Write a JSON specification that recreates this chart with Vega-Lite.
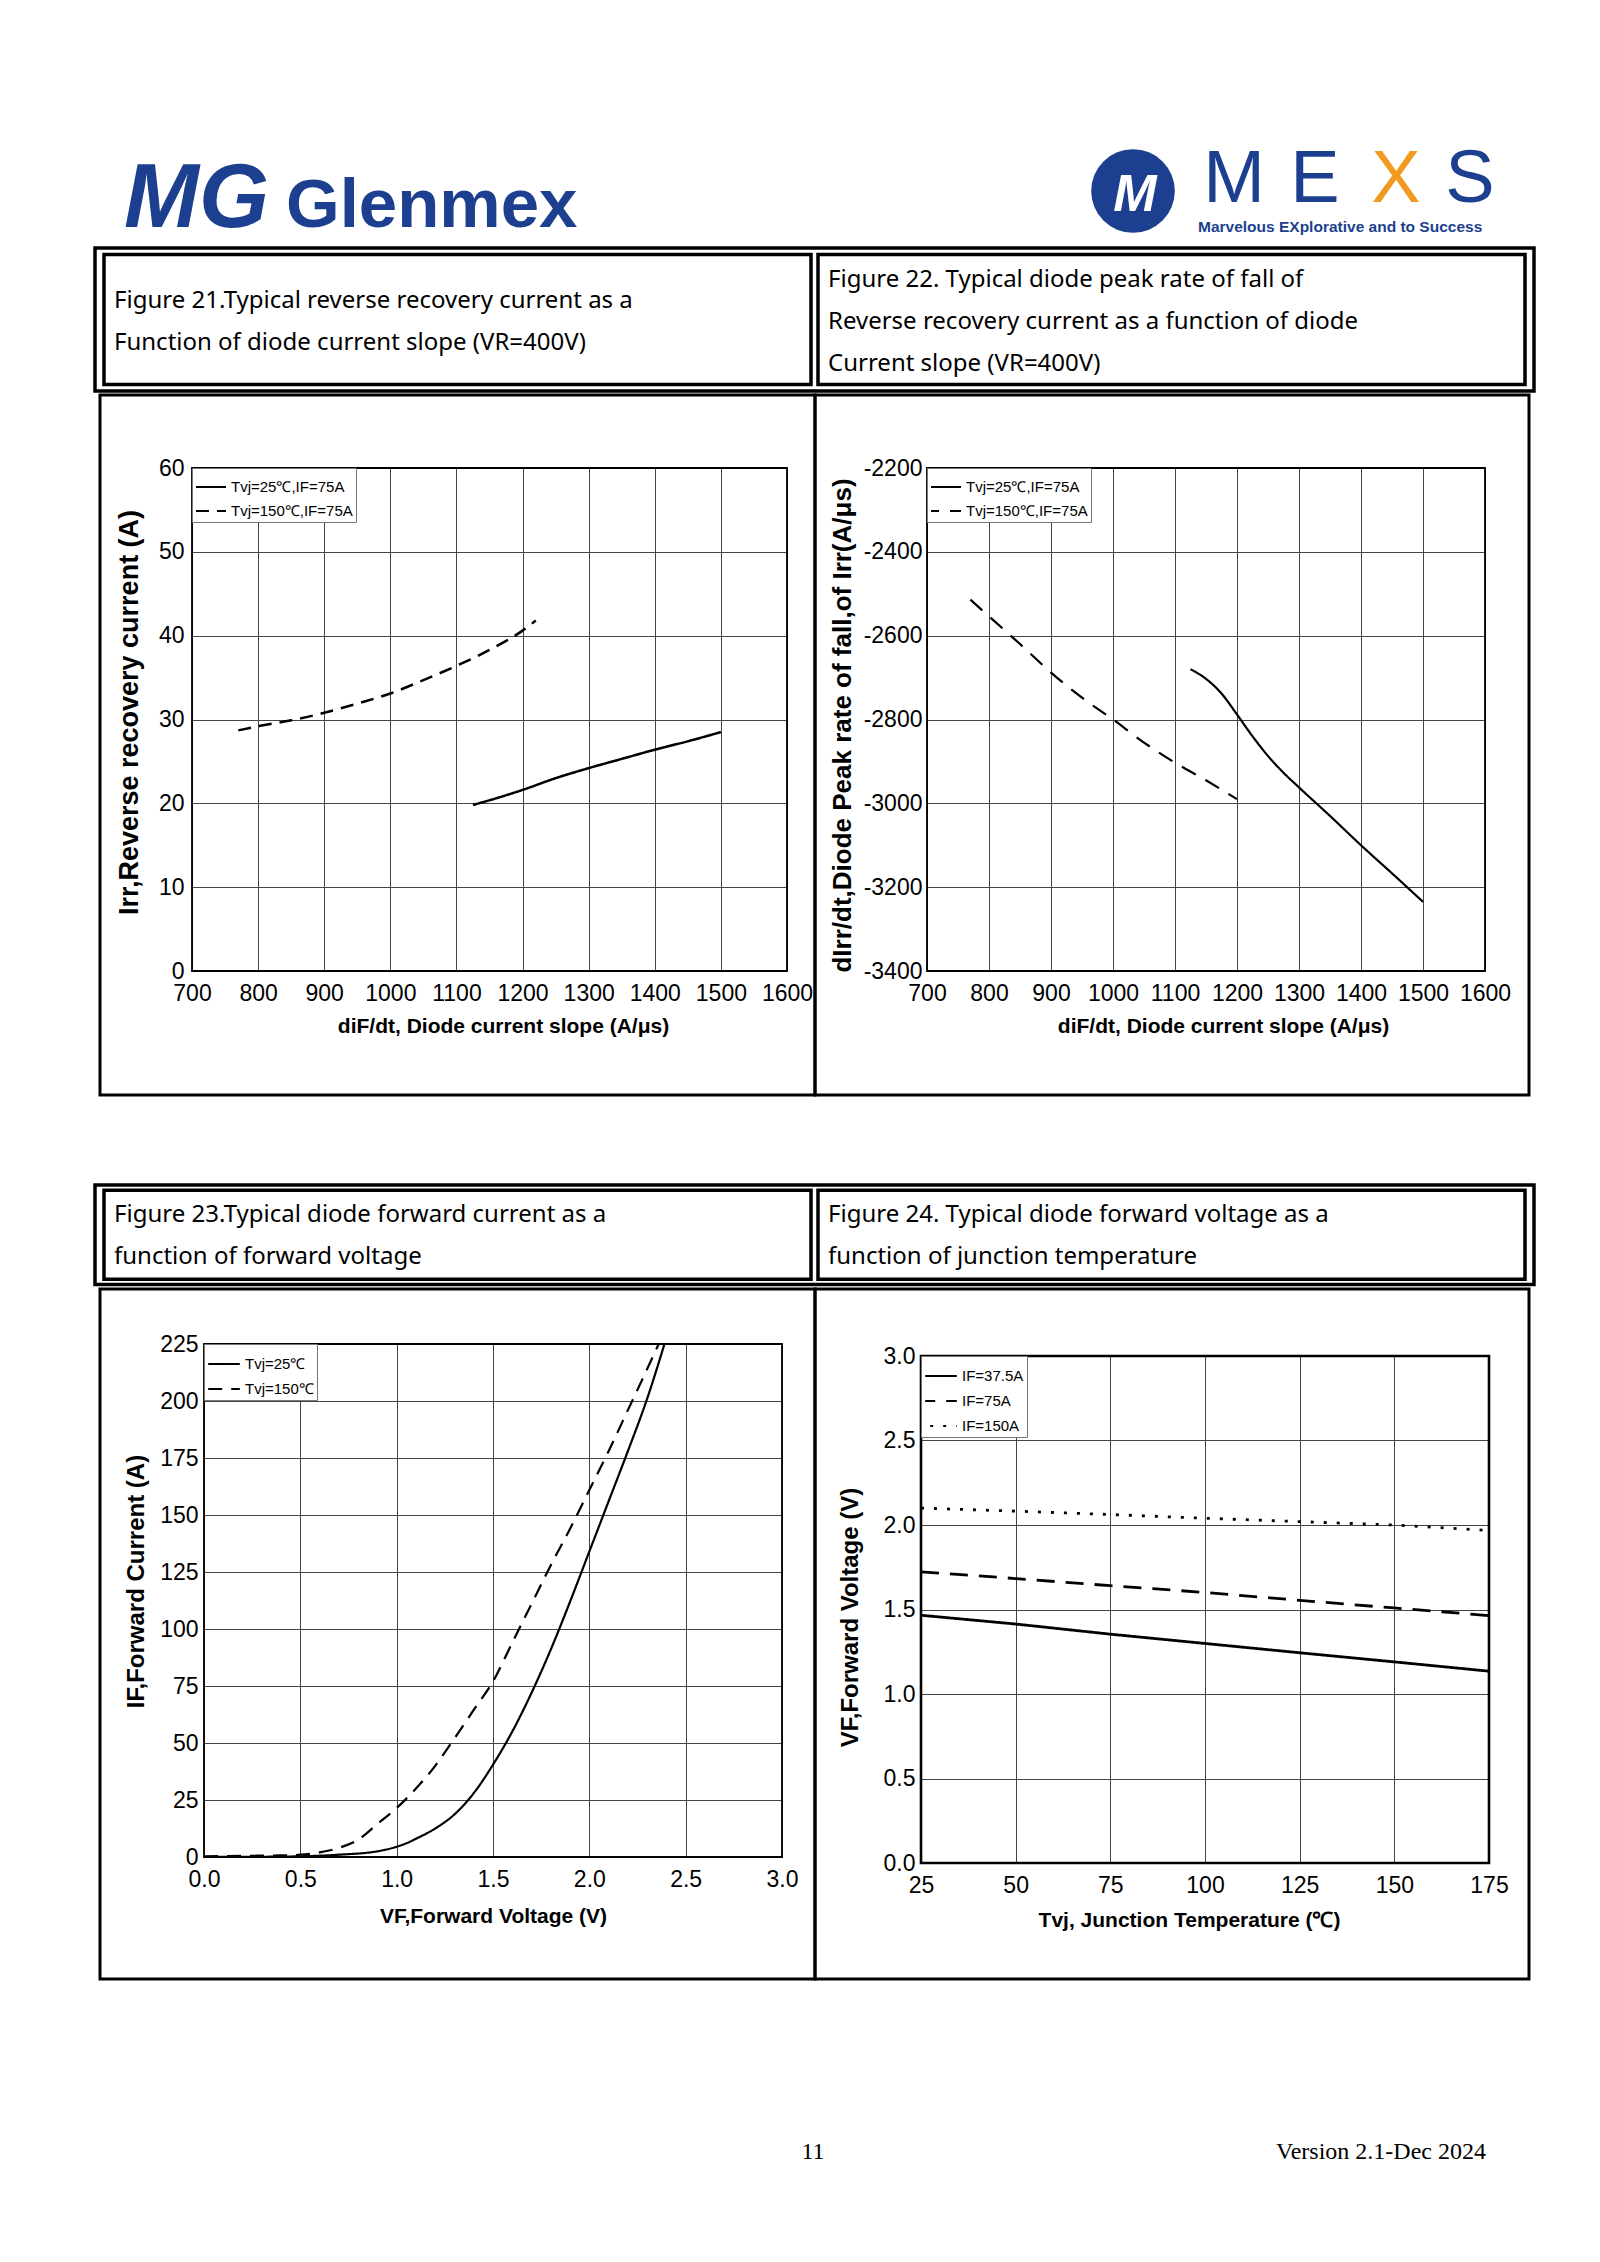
{
  "$schema": "https://vega.github.io/schema/vega-lite/v6.json",
  "background": "white",
  "padding": {"left": 93, "top": 130, "right": 0, "bottom": 0},
  "spacing": 0,
  "bounds": "full",
  "resolve": {"scale": {"strokeDash": "independent"}, "legend": {"strokeDash": "independent"}},
  "datasets": {
    "fig21": [
      {"slope": 1125, "irr": 19.8, "condition": "Tvj=25℃,IF=75A"},
      {"slope": 1160, "irr": 20.6, "condition": "Tvj=25℃,IF=75A"},
      {"slope": 1200, "irr": 21.6, "condition": "Tvj=25℃,IF=75A"},
      {"slope": 1250, "irr": 23.0, "condition": "Tvj=25℃,IF=75A"},
      {"slope": 1300, "irr": 24.2, "condition": "Tvj=25℃,IF=75A"},
      {"slope": 1350, "irr": 25.3, "condition": "Tvj=25℃,IF=75A"},
      {"slope": 1400, "irr": 26.4, "condition": "Tvj=25℃,IF=75A"},
      {"slope": 1450, "irr": 27.4, "condition": "Tvj=25℃,IF=75A"},
      {"slope": 1500, "irr": 28.5, "condition": "Tvj=25℃,IF=75A"},
      {"slope": 770, "irr": 28.7, "condition": "Tvj=150℃,IF=75A"},
      {"slope": 800, "irr": 29.2, "condition": "Tvj=150℃,IF=75A"},
      {"slope": 850, "irr": 29.9, "condition": "Tvj=150℃,IF=75A"},
      {"slope": 900, "irr": 30.8, "condition": "Tvj=150℃,IF=75A"},
      {"slope": 950, "irr": 31.9, "condition": "Tvj=150℃,IF=75A"},
      {"slope": 1000, "irr": 33.1, "condition": "Tvj=150℃,IF=75A"},
      {"slope": 1050, "irr": 34.7, "condition": "Tvj=150℃,IF=75A"},
      {"slope": 1100, "irr": 36.4, "condition": "Tvj=150℃,IF=75A"},
      {"slope": 1150, "irr": 38.3, "condition": "Tvj=150℃,IF=75A"},
      {"slope": 1200, "irr": 40.6, "condition": "Tvj=150℃,IF=75A"},
      {"slope": 1220, "irr": 41.8, "condition": "Tvj=150℃,IF=75A"}
    ],
    "fig22": [
      {"slope": 1125, "rate": -2680, "condition": "Tvj=25℃,IF=75A"},
      {"slope": 1150, "rate": -2703, "condition": "Tvj=25℃,IF=75A"},
      {"slope": 1175, "rate": -2738, "condition": "Tvj=25℃,IF=75A"},
      {"slope": 1200, "rate": -2788, "condition": "Tvj=25℃,IF=75A"},
      {"slope": 1225, "rate": -2840, "condition": "Tvj=25℃,IF=75A"},
      {"slope": 1250, "rate": -2887, "condition": "Tvj=25℃,IF=75A"},
      {"slope": 1275, "rate": -2927, "condition": "Tvj=25℃,IF=75A"},
      {"slope": 1300, "rate": -2962, "condition": "Tvj=25℃,IF=75A"},
      {"slope": 1350, "rate": -3030, "condition": "Tvj=25℃,IF=75A"},
      {"slope": 1400, "rate": -3100, "condition": "Tvj=25℃,IF=75A"},
      {"slope": 1450, "rate": -3167, "condition": "Tvj=25℃,IF=75A"},
      {"slope": 1500, "rate": -3235, "condition": "Tvj=25℃,IF=75A"},
      {"slope": 770, "rate": -2514, "condition": "Tvj=150℃,IF=75A"},
      {"slope": 800, "rate": -2554, "condition": "Tvj=150℃,IF=75A"},
      {"slope": 850, "rate": -2620, "condition": "Tvj=150℃,IF=75A"},
      {"slope": 900, "rate": -2688, "condition": "Tvj=150℃,IF=75A"},
      {"slope": 950, "rate": -2748, "condition": "Tvj=150℃,IF=75A"},
      {"slope": 1000, "rate": -2800, "condition": "Tvj=150℃,IF=75A"},
      {"slope": 1050, "rate": -2855, "condition": "Tvj=150℃,IF=75A"},
      {"slope": 1100, "rate": -2903, "condition": "Tvj=150℃,IF=75A"},
      {"slope": 1150, "rate": -2945, "condition": "Tvj=150℃,IF=75A"},
      {"slope": 1200, "rate": -2990, "condition": "Tvj=150℃,IF=75A"}
    ],
    "fig23": [
      {"vf": 0.0, "current": 0.0, "condition": "Tvj=25℃"},
      {"vf": 0.3, "current": 0.1, "condition": "Tvj=25℃"},
      {"vf": 0.5, "current": 0.3, "condition": "Tvj=25℃"},
      {"vf": 0.7, "current": 1.0, "condition": "Tvj=25℃"},
      {"vf": 0.9, "current": 2.5, "condition": "Tvj=25℃"},
      {"vf": 1.0, "current": 4.5, "condition": "Tvj=25℃"},
      {"vf": 1.05, "current": 6.0, "condition": "Tvj=25℃"},
      {"vf": 1.1, "current": 8.0, "condition": "Tvj=25℃"},
      {"vf": 1.2, "current": 12.5, "condition": "Tvj=25℃"},
      {"vf": 1.3, "current": 18.7, "condition": "Tvj=25℃"},
      {"vf": 1.4, "current": 28.0, "condition": "Tvj=25℃"},
      {"vf": 1.5, "current": 40.5, "condition": "Tvj=25℃"},
      {"vf": 1.6, "current": 55.0, "condition": "Tvj=25℃"},
      {"vf": 1.7, "current": 72.0, "condition": "Tvj=25℃"},
      {"vf": 1.8, "current": 91.0, "condition": "Tvj=25℃"},
      {"vf": 1.9, "current": 112.0, "condition": "Tvj=25℃"},
      {"vf": 2.0, "current": 134.0, "condition": "Tvj=25℃"},
      {"vf": 2.1, "current": 156.0, "condition": "Tvj=25℃"},
      {"vf": 2.2, "current": 178.0, "condition": "Tvj=25℃"},
      {"vf": 2.3, "current": 201.0, "condition": "Tvj=25℃"},
      {"vf": 2.39, "current": 225.0, "condition": "Tvj=25℃"},
      {"vf": 0.0, "current": 0.3, "condition": "Tvj=150℃"},
      {"vf": 0.2, "current": 0.5, "condition": "Tvj=150℃"},
      {"vf": 0.4, "current": 0.7, "condition": "Tvj=150℃"},
      {"vf": 0.5, "current": 1.0, "condition": "Tvj=150℃"},
      {"vf": 0.6, "current": 2.0, "condition": "Tvj=150℃"},
      {"vf": 0.7, "current": 4.0, "condition": "Tvj=150℃"},
      {"vf": 0.8, "current": 7.6, "condition": "Tvj=150℃"},
      {"vf": 0.9, "current": 14.5, "condition": "Tvj=150℃"},
      {"vf": 1.0, "current": 21.5, "condition": "Tvj=150℃"},
      {"vf": 1.1, "current": 30.0, "condition": "Tvj=150℃"},
      {"vf": 1.2, "current": 40.0, "condition": "Tvj=150℃"},
      {"vf": 1.3, "current": 52.0, "condition": "Tvj=150℃"},
      {"vf": 1.4, "current": 64.5, "condition": "Tvj=150℃"},
      {"vf": 1.5, "current": 77.0, "condition": "Tvj=150℃"},
      {"vf": 1.6, "current": 94.0, "condition": "Tvj=150℃"},
      {"vf": 1.7, "current": 111.0, "condition": "Tvj=150℃"},
      {"vf": 1.8, "current": 128.0, "condition": "Tvj=150℃"},
      {"vf": 1.9, "current": 144.0, "condition": "Tvj=150℃"},
      {"vf": 2.0, "current": 161.0, "condition": "Tvj=150℃"},
      {"vf": 2.1, "current": 178.0, "condition": "Tvj=150℃"},
      {"vf": 2.2, "current": 196.0, "condition": "Tvj=150℃"},
      {"vf": 2.3, "current": 214.0, "condition": "Tvj=150℃"},
      {"vf": 2.36, "current": 225.0, "condition": "Tvj=150℃"}
    ],
    "fig24": [
      {"tvj": 25, "vf": 1.466, "condition": "IF=37.5A"},
      {"tvj": 50, "vf": 1.414, "condition": "IF=37.5A"},
      {"tvj": 75, "vf": 1.354, "condition": "IF=37.5A"},
      {"tvj": 100, "vf": 1.299, "condition": "IF=37.5A"},
      {"tvj": 125, "vf": 1.244, "condition": "IF=37.5A"},
      {"tvj": 150, "vf": 1.19, "condition": "IF=37.5A"},
      {"tvj": 175, "vf": 1.135, "condition": "IF=37.5A"},
      {"tvj": 25, "vf": 1.723, "condition": "IF=75A"},
      {"tvj": 50, "vf": 1.683, "condition": "IF=75A"},
      {"tvj": 75, "vf": 1.641, "condition": "IF=75A"},
      {"tvj": 100, "vf": 1.601, "condition": "IF=75A"},
      {"tvj": 125, "vf": 1.554, "condition": "IF=75A"},
      {"tvj": 150, "vf": 1.509, "condition": "IF=75A"},
      {"tvj": 175, "vf": 1.464, "condition": "IF=75A"},
      {"tvj": 25, "vf": 2.10, "condition": "IF=150A"},
      {"tvj": 50, "vf": 2.082, "condition": "IF=150A"},
      {"tvj": 75, "vf": 2.062, "condition": "IF=150A"},
      {"tvj": 100, "vf": 2.04, "condition": "IF=150A"},
      {"tvj": 125, "vf": 2.02, "condition": "IF=150A"},
      {"tvj": 150, "vf": 2.0, "condition": "IF=150A"},
      {"tvj": 175, "vf": 1.968, "condition": "IF=150A"}
    ]
  },
  "vconcat": [
    {
      "width": 1439, "height": 115,
      "layer": [
        {"data": {"values": [{"t": "MG"}]}, "mark": {"type": "text", "x": 29, "y": 96, "align": "left", "baseline": "alphabetic", "font": "Liberation Sans", "fontSize": 90, "fontWeight": "bold", "fontStyle": "italic", "color": "#1c3f8f"}, "encoding": {"text": {"field": "t"}}},
        {"data": {"values": [{"t": "Glenmex"}]}, "mark": {"type": "text", "x": 191, "y": 96, "align": "left", "baseline": "alphabetic", "font": "Liberation Sans", "fontSize": 69, "fontWeight": "bold", "color": "#1c3f8f"}, "encoding": {"text": {"field": "t"}}},
        {"data": {"values": [{"t": "line"}]}, "mark": {"type": "rule", "x": 479, "x2": 1432, "y": 106, "color": "#2a4b9b", "strokeWidth": 3}, "encoding": {}},
        {"data": {"values": [{"t": "circle"}]}, "mark": {"type": "circle", "x": 1038, "y": 60, "size": 7000, "color": "#1c3f8f", "opacity": 1}},
        {"data": {"values": [{"t": "M"}]}, "mark": {"type": "text", "x": 1040, "y": 64, "align": "center", "baseline": "middle", "font": "Liberation Sans", "fontSize": 52, "fontWeight": "bold", "fontStyle": "italic", "color": "white"}, "encoding": {"text": {"field": "t"}}},
        {"data": {"values": [{"t": "M"}]}, "mark": {"type": "text", "x": 1139, "y": 71, "align": "center", "baseline": "alphabetic", "font": "Liberation Sans", "fontSize": 74, "color": "#1c3f8f"}, "encoding": {"text": {"field": "t"}}},
        {"data": {"values": [{"t": "E"}]}, "mark": {"type": "text", "x": 1220, "y": 71, "align": "center", "baseline": "alphabetic", "font": "Liberation Sans", "fontSize": 74, "color": "#1c3f8f"}, "encoding": {"text": {"field": "t"}}},
        {"data": {"values": [{"t": "X"}]}, "mark": {"type": "text", "x": 1301, "y": 71, "align": "center", "baseline": "alphabetic", "font": "Liberation Sans", "fontSize": 74, "color": "#f29a1f"}, "encoding": {"text": {"field": "t"}}},
        {"data": {"values": [{"t": "S"}]}, "mark": {"type": "text", "x": 1375, "y": 71, "align": "center", "baseline": "alphabetic", "font": "Liberation Sans", "fontSize": 74, "color": "#1c3f8f"}, "encoding": {"text": {"field": "t"}}},
        {"data": {"values": [{"t": "Marvelous EXplorative and to Success"}]}, "mark": {"type": "text", "x": 1103, "y": 101, "align": "left", "baseline": "alphabetic", "font": "Liberation Sans", "fontSize": 15.5, "fontWeight": "bold", "color": "#1c3f8f"}, "encoding": {"text": {"field": "t"}}}
      ]
    },
    {
      "width": 1439, "height": 143,
      "view": {"stroke": "black", "strokeWidth": 3.5},
      "data": {"values": [
        {"cell": "left", "row": "caption", "caption": "Figure 21.Typical reverse recovery current as a\nFunction of diode current slope (VR=400V)"},
        {"cell": "right", "row": "caption", "caption": "Figure 22. Typical diode peak rate of fall of\nReverse recovery current as a function of diode\nCurrent slope (VR=400V)"}
      ]},
      "encoding": {
        "x": {"field": "cell", "type": "nominal", "axis": null, "scale": {"type": "band", "domain": ["left", "right"], "paddingInner": 0.0098, "paddingOuter": 0.0126}},
        "y": {"field": "row", "type": "nominal", "axis": null, "scale": {"type": "band", "paddingInner": 0, "paddingOuter": 0.05}}
      },
      "layer": [
        {"mark": {"type": "rect", "fill": "white", "stroke": "black", "strokeWidth": 3.5}},
        {"transform": [{"filter": "datum.cell == 'left'"}],
         "mark": {"type": "text", "align": "left", "baseline": "middle", "dx": 10, "dy": -19, "font": "Noto Sans", "fontSize": 24, "lineHeight": 42, "lineBreak": "\n", "color": "black"},
         "encoding": {
           "x": {"field": "cell", "type": "nominal", "bandPosition": 0},
           "y": {"field": "row", "type": "nominal", "bandPosition": 0.5},
           "text": {"field": "caption"}
         }},
        {"transform": [{"filter": "datum.cell == 'right'"}],
         "mark": {"type": "text", "align": "left", "baseline": "middle", "dx": 10, "dy": -40, "font": "Noto Sans", "fontSize": 24, "lineHeight": 42, "lineBreak": "\n", "color": "black"},
         "encoding": {
           "x": {"field": "cell", "type": "nominal", "bandPosition": 0},
           "y": {"field": "row", "type": "nominal", "bandPosition": 0.5},
           "text": {"field": "caption"}
         }}
      ]
    },
    {
      "spacing": 0,
      "bounds": "flush",
      "resolve": {"scale": {"strokeDash": "independent"}, "legend": {"strokeDash": "independent"}},
      "hconcat": [
        {"width": 5, "height": 700, "data": {"values": [{"t": ""}]}, "mark": {"type": "text"}, "encoding": {"text": {"field": "t"}}},
        {
          "width": 715, "height": 700,
          "view": {"stroke": "black", "strokeWidth": 3},
          "resolve": {"axis": {"x": "independent"}},
          "layer": [
            {
              "data": {"values": [{"frame": "plot area"}]},
              "mark": {"type": "rect", "fill": "transparent", "stroke": "black", "strokeWidth": 1.8},
              "encoding": {
                "x": {"datum": 700, "type": "quantitative", "scale": {"domain": [700, 1600], "range": [92, 687], "nice": false, "zero": false},
                      "axis": {"orient": "top", "grid": true, "labels": false, "ticks": false, "domain": false, "title": null, "values": [700, 800, 900, 1000, 1100, 1200, 1300, 1400, 1500, 1600]}},
                "x2": {"datum": 1600},
                "y": {"datum": 0, "type": "quantitative", "scale": {"domain": [0, 60], "range": [576, 73], "nice": false, "zero": false},
                      "axis": {"orient": "left", "offset": -92, "grid": true, "values": [0, 10, 20, 30, 40, 50, 60], "labelPadding": 8, "title": "Irr,Reverse recovery current (A)", "titleFontSize": 27, "titlePadding": 15, "titleY": 317}},
                "y2": {"datum": 60}
              }
            },
            {
              "data": {"name": "fig21"},
              "mark": {"type": "line", "color": "black", "strokeWidth": 2.5, "interpolate": "monotone"},
              "encoding": {
                "x": {"field": "slope", "type": "quantitative", "axis": {"orient": "bottom", "offset": -124, "grid": false, "format": "d", "values": [700, 800, 900, 1000, 1100, 1200, 1300, 1400, 1500, 1600], "labelPadding": 11, "title": "diF/dt, Diode current slope (A/μs)", "titleFontSize": 21, "titlePadding": 10, "titleX": 403}},
                "y": {"field": "irr", "type": "quantitative"},
                "strokeDash": {"field": "condition", "type": "nominal",
                  "scale": {"domain": ["Tvj=25℃,IF=75A", "Tvj=150℃,IF=75A"], "range": [[1, 0], [13, 8]]},
                  "legend": {"orient": "none", "legendX": 92, "legendY": 73, "symbolSize": 900}}
              }
            }
          ]
        },
        {
          "width": 714, "height": 700,
          "view": {"stroke": "black", "strokeWidth": 3},
          "resolve": {"axis": {"x": "independent"}},
          "layer": [
            {
              "data": {"values": [{"frame": "plot area"}]},
              "mark": {"type": "rect", "fill": "transparent", "stroke": "black", "strokeWidth": 1.8},
              "encoding": {
                "x": {"datum": 700, "type": "quantitative", "scale": {"domain": [700, 1600], "range": [112, 670], "nice": false, "zero": false},
                      "axis": {"orient": "top", "grid": true, "labels": false, "ticks": false, "domain": false, "title": null, "values": [700, 800, 900, 1000, 1100, 1200, 1300, 1400, 1500, 1600]}},
                "x2": {"datum": 1600},
                "y": {"datum": -3400, "type": "quantitative", "scale": {"domain": [-3400, -2200], "range": [576, 73], "nice": false, "zero": false},
                      "axis": {"orient": "left", "offset": -112, "grid": true, "values": [-3400, -3200, -3000, -2800, -2600, -2400, -2200], "labelExpr": "'' + datum.value", "labelPadding": 5, "title": "dIrr/dt,Diode Peak rate of fall,of Irr(A/μs)", "titleFontSize": 26, "titlePadding": 8, "titleY": 330}},
                "y2": {"datum": -2200}
              }
            },
            {
              "data": {"name": "fig22"},
              "mark": {"type": "line", "color": "black", "strokeWidth": 2.2, "interpolate": "monotone"},
              "encoding": {
                "x": {"field": "slope", "type": "quantitative", "axis": {"orient": "bottom", "offset": -124, "grid": false, "format": "d", "values": [700, 800, 900, 1000, 1100, 1200, 1300, 1400, 1500, 1600], "labelPadding": 11, "title": "diF/dt, Diode current slope (A/μs)", "titleFontSize": 21, "titlePadding": 10, "titleX": 408}},
                "y": {"field": "rate", "type": "quantitative"},
                "strokeDash": {"field": "condition", "type": "nominal",
                  "scale": {"domain": ["Tvj=25℃,IF=75A", "Tvj=150℃,IF=75A"], "range": [[1, 0], [16, 11]]},
                  "legend": {"orient": "none", "legendX": 112, "legendY": 73, "symbolSize": 900, "symbolDashOffset": 8}}
              }
            }
          ]
        }
      ]
    },
    {"width": 1439, "height": 86, "data": {"values": [{"t": ""}]}, "mark": {"type": "text"}, "encoding": {"text": {"field": "t"}}},
    {
      "width": 1439, "height": 99.5,
      "view": {"stroke": "black", "strokeWidth": 3.5},
      "data": {"values": [
        {"cell": "left", "row": "caption", "caption": "Figure 23.Typical diode forward current as a\nfunction of forward voltage"},
        {"cell": "right", "row": "caption", "caption": "Figure 24. Typical diode forward voltage as a\nfunction of junction temperature"}
      ]},
      "encoding": {
        "x": {"field": "cell", "type": "nominal", "axis": null, "scale": {"type": "band", "domain": ["left", "right"], "paddingInner": 0.0098, "paddingOuter": 0.0126}},
        "y": {"field": "row", "type": "nominal", "axis": null, "scale": {"type": "band", "paddingInner": 0, "paddingOuter": 0.059}}
      },
      "layer": [
        {"mark": {"type": "rect", "fill": "white", "stroke": "black", "strokeWidth": 3.5}},
        {"mark": {"type": "text", "align": "left", "baseline": "middle", "dx": 10, "dy": -20, "font": "Noto Sans", "fontSize": 24, "lineHeight": 42, "lineBreak": "\n", "color": "black"},
         "encoding": {
           "x": {"field": "cell", "type": "nominal", "bandPosition": 0},
           "y": {"field": "row", "type": "nominal", "bandPosition": 0.5},
           "text": {"field": "caption"}
         }}
      ]
    },
    {
      "spacing": 0,
      "bounds": "flush",
      "resolve": {"scale": {"strokeDash": "independent"}, "legend": {"strokeDash": "independent"}},
      "hconcat": [
        {"width": 5, "height": 690, "data": {"values": [{"t": ""}]}, "mark": {"type": "text"}, "encoding": {"text": {"field": "t"}}},
        {
          "width": 715, "height": 690,
          "view": {"stroke": "black", "strokeWidth": 3},
          "resolve": {"axis": {"x": "independent"}},
          "layer": [
            {
              "data": {"values": [{"frame": "plot area"}]},
              "mark": {"type": "rect", "fill": "transparent", "stroke": "black", "strokeWidth": 1.8},
              "encoding": {
                "x": {"datum": 0, "type": "quantitative", "scale": {"domain": [0, 3], "range": [104, 682], "nice": false, "zero": false},
                      "axis": {"orient": "top", "grid": true, "labels": false, "ticks": false, "domain": false, "title": null, "values": [0, 0.5, 1, 1.5, 2, 2.5, 3]}},
                "x2": {"datum": 3},
                "y": {"datum": 0, "type": "quantitative", "scale": {"domain": [0, 225], "range": [568, 55], "nice": false, "zero": false},
                      "axis": {"orient": "left", "offset": -104, "grid": true, "values": [0, 25, 50, 75, 100, 125, 150, 175, 200, 225], "labelPadding": 6, "title": "IF,Forward Current (A)", "titleFontSize": 24, "titlePadding": 11, "titleY": 292}},
                "y2": {"datum": 225}
              }
            },
            {
              "data": {"name": "fig23"},
              "mark": {"type": "line", "color": "black", "strokeWidth": 2.2, "interpolate": "monotone"},
              "encoding": {
                "x": {"field": "vf", "type": "quantitative", "axis": {"orient": "bottom", "offset": -122, "grid": false, "values": [0, 0.5, 1, 1.5, 2, 2.5, 3], "format": ".1f", "labelPadding": 11, "title": "VF,Forward Voltage (V)", "titleFontSize": 21, "titlePadding": 14}},
                "y": {"field": "current", "type": "quantitative"},
                "strokeDash": {"field": "condition", "type": "nominal",
                  "scale": {"domain": ["Tvj=25℃", "Tvj=150℃"], "range": [[1, 0], [14, 9]]},
                  "legend": {"orient": "none", "legendX": 104, "legendY": 55, "symbolSize": 1000}}
              }
            }
          ]
        },
        {
          "width": 714, "height": 690,
          "view": {"stroke": "black", "strokeWidth": 3},
          "resolve": {"axis": {"x": "independent"}},
          "layer": [
            {
              "data": {"values": [{"frame": "plot area"}]},
              "mark": {"type": "rect", "fill": "transparent", "stroke": "black", "strokeWidth": 2.6},
              "encoding": {
                "x": {"datum": 25, "type": "quantitative", "scale": {"domain": [25, 175], "range": [106, 674], "nice": false, "zero": false},
                      "axis": {"orient": "top", "grid": true, "labels": false, "ticks": false, "domain": false, "title": null, "values": [25, 50, 75, 100, 125, 150, 175]}},
                "x2": {"datum": 175},
                "y": {"datum": 0, "type": "quantitative", "scale": {"domain": [0, 3], "range": [574, 67], "nice": false, "zero": false},
                      "axis": {"orient": "left", "offset": -106, "grid": true, "values": [0, 0.5, 1, 1.5, 2, 2.5, 3], "format": ".1f", "labelPadding": 6, "title": "VF,Forward Voltage (V)", "titleFontSize": 24, "titlePadding": 21, "titleY": 328}},
                "y2": {"datum": 3}
              }
            },
            {
              "data": {"name": "fig24"},
              "mark": {"type": "line", "color": "black", "strokeWidth": 2.8},
              "encoding": {
                "x": {"field": "tvj", "type": "quantitative", "axis": {"orient": "bottom", "offset": -116, "grid": false, "values": [25, 50, 75, 100, 125, 150, 175], "labelPadding": 11, "title": "Tvj, Junction Temperature (℃)", "titleFontSize": 21, "titlePadding": 12, "titleX": 374}},
                "y": {"field": "vf", "type": "quantitative"},
                "strokeDash": {"field": "condition", "type": "nominal",
                  "scale": {"domain": ["IF=37.5A", "IF=75A", "IF=150A"], "range": [[1, 0], [18, 11], [3, 10]]},
                  "legend": {"orient": "none", "legendX": 106, "legendY": 67, "symbolSize": 1000, "symbolDashOffset": 8}}
              }
            }
          ]
        }
      ]
    },
    {
      "width": 1439, "height": 200,
      "layer": [
        {"data": {"values": [{"t": "11"}]}, "mark": {"type": "text", "x": 718, "y": 171, "align": "center", "baseline": "middle", "font": "Liberation Serif", "fontSize": 24, "color": "black"}, "encoding": {"text": {"field": "t"}}},
        {"data": {"values": [{"t": "Version 2.1-Dec 2024"}]}, "mark": {"type": "text", "x": 1391, "y": 171, "align": "right", "baseline": "middle", "font": "Liberation Serif", "fontSize": 24, "color": "black"}, "encoding": {"text": {"field": "t"}}}
      ]
    }
  ],
  "config": {
    "view": {"stroke": null},
    "concat": {"spacing": 0},
    "axis": {
      "labelFont": "Liberation Sans",
      "labelFontSize": 23,
      "labelColor": "black",
      "labelOverlap": false,
      "labelFlush": false,
      "titleFont": "Liberation Sans",
      "titleFontWeight": "bold",
      "titleColor": "black",
      "ticks": false,
      "domain": false,
      "gridColor": "#444",
      "gridWidth": 1,
      "gridOpacity": 1
    },
    "legend": {
      "title": null,
      "fillColor": "white",
      "strokeColor": "#777",
      "padding": 3,
      "rowPadding": 0,
      "symbolType": "stroke",
      "symbolStrokeWidth": 2,
      "symbolStrokeColor": "black",
      "labelFont": "Liberation Sans",
      "labelFontSize": 15,
      "labelColor": "black",
      "labelOffset": 4,
      "zindex": 1
    }
  }
}
